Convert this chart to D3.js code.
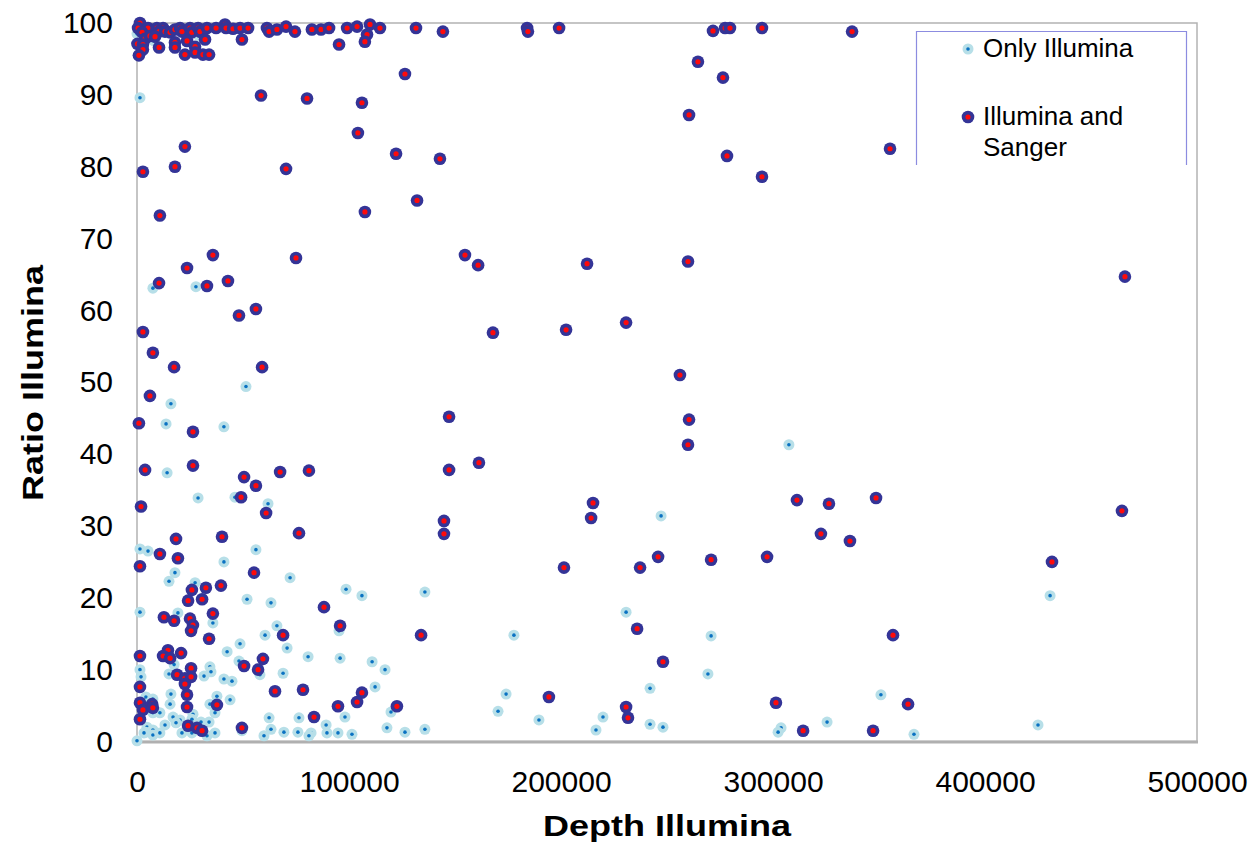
<!DOCTYPE html>
<html>
<head>
<meta charset="utf-8">
<script src="https://cdn.jsdelivr.net/npm/d3@7"></script>
<style>
  body { margin: 0; background: #fff; }
  svg { display: block; }
</style>
</head>
<body>
<div id="chart"></div>
<script>
// [depth, ratio]
const onlyIllumina = [
  [0,98.5],[8000,97.5],[29200,98.2],[1400,89.6],[7500,63.1],[27800,63.3],[51400,49.4],
  [16000,47.0],[13700,44.2],[41000,43.8],[14200,37.4],[28800,33.9],[46200,34.0],[61800,33.1],
  [1400,26.8],[5200,26.5],[56100,26.7],[41000,25.0],[307500,41.3],[247200,31.4],[430700,20.3],
  [230700,18.0],[177800,14.8],[270800,14.7],[269300,9.4],
  [174100,6.6],[242000,7.4],[170300,4.2],[189600,3.0],[219800,3.4],[216500,1.6],[242000,2.4],
  [248100,2.0],[303800,1.9],[302400,1.3],[325500,2.7],[350900,6.5],[366500,1.0],[425000,2.3],
  [17900,23.5],[15100,22.3],[27400,22.1],[72200,22.8],[51900,19.8],[63200,19.3],[98600,21.2],
  [106100,20.3],[135800,20.8],[1400,18.0],[19300,17.9],[35800,16.5],[95300,15.4],[66000,16.1],
  [60400,14.8],[48600,13.6],[70800,13.0],[42500,12.5],[80700,11.8],[95800,11.6],[110900,11.1],
  [117000,10.0],[48100,11.2],[58000,9.3],[17500,10.7],[34400,10.4],[34900,9.7],[1400,10.0],
  [1900,9.0],[15100,9.4],[31600,9.1],[41000,8.7],[44800,8.4],[68900,9.5],[4200,6.2],[7500,5.9],
  [16000,6.6],[37700,6.3],[43900,5.8],[34400,5.2],[7500,4.0],[10800,4.0],[15600,5.2],[36800,4.0],
  [119800,4.1],[112300,7.6],[98100,3.4],[62300,3.3],[76400,3.3],[63200,1.7],[69300,1.3],
  [75900,1.3],[82100,1.2],[81100,0.8],[59900,0.8],[89200,2.3],[89600,1.2],[94800,1.2],
  [101400,1.0],[117900,1.9],[126400,1.3],[135800,1.7],[13200,2.3],[17000,3.4],[20300,3.0],
  [18400,2.6],[26400,3.8],[25900,3.1],[30200,2.7],[34000,2.7],[4700,2.0],[4200,1.3],[7500,1.6],
  [7500,0.9],[10800,1.2],[3300,1.2],[21200,1.2],[25900,1.2],[33000,0.8],[36800,1.2],[49500,1.5],
  [0,0.1]
];

const illuminaSanger = [
  [1400,100],[500,99.3],[5200,99.3],[9400,99.3],[12300,99.3],[10400,98.8],[2400,98.7],
  [3800,97.8],[6100,98.2],[8500,98.1],[13200,98.8],[15600,98.7],[17900,99.1],[20300,99.3],
  [21200,98.8],[25000,99.3],[25900,98.7],[28800,99.3],[29700,98.8],[33000,99.3],[37300,99.3],
  [41500,99.8],[42000,99.3],[45300,99.2],[48600,99.3],[52400,99.3],[61300,99.3],[62300,98.8],
  [66000,99.1],[70300,99.5],[74500,98.8],[82500,99.1],[86800,99.1],[90600,99.3],[99100,99.3],
  [103800,99.5],[109900,99.8],[114600,99.3],[131600,99.3],[144300,98.8],[184000,99.3],
  [184400,98.8],[199100,99.3],[271700,98.9],[277400,99.3],[279700,99.3],[294800,99.3],
  [337300,98.8],[200,97.1],[2800,97.0],[2800,96.3],[900,95.5],[10400,96.6],[17900,97.3],
  [17900,96.6],[23600,97.5],[27400,96.7],[22600,95.6],[27400,95.9],[31100,95.6],[34000,95.6],
  [32100,97.7],[49500,97.7],[108500,98.4],[107500,97.4],[95300,97.0],[126400,92.9],
  [58500,89.9],[80200,89.5],[106100,88.9],[104200,84.7],[264600,94.6],[276400,92.4],
  [260400,87.2],[278300,81.5],[294800,78.6],[355200,82.5],[2800,79.3],[10800,73.2],
  [22600,82.8],[17900,80.0],[122200,81.8],[70300,79.7],[142900,81.1],[107500,73.7],
  [132100,75.3],[35800,67.7],[75000,67.3],[23600,65.9],[10400,63.8],[33000,63.4],[42900,64.1],
  [56100,60.2],[48100,59.3],[2800,57.0],[7500,54.1],[17500,52.1],[59000,52.1],[6100,48.1],
  [900,44.3],[26400,43.1],[3800,37.8],[26400,38.4],[50500,36.8],[56100,35.6],[67500,37.5],
  [81100,37.7],[49100,34.0],[1900,32.7],[60900,31.8],[76400,29.0],[18400,28.2],[40100,28.5],
  [10800,26.1],[19300,25.5],[1400,24.4],[147200,45.2],[147200,37.8],[161300,38.8],
  [144800,30.7],[144800,28.9],[154700,67.7],[160900,66.3],[167900,56.9],[202400,57.3],
  [230700,58.3],[212300,66.5],[259900,66.8],[256100,51.0],[260400,44.8],[259900,41.3],
  [466000,64.7],[215100,33.2],[214200,31.1],[311300,33.6],[326400,33.1],[348600,33.9],
  [322600,28.9],[336300,27.9],[464600,32.1],[201400,24.2],[237300,24.2],[245800,25.7],
  [270800,25.3],[297200,25.7],[431600,25.0],[235900,15.7],[356600,14.8],[248100,11.1],
  [194300,6.2],[230700,4.8],[231600,3.3],[301400,5.4],[314200,1.5],[363700,5.2],[347200,1.5],
  [55200,23.5],[25900,21.1],[32500,21.4],[39600,21.7],[24100,19.6],[30700,19.8],[88200,18.7],
  [12700,17.3],[17500,16.8],[25000,17.1],[26400,16.2],[25500,15.4],[35800,17.8],[95800,16.1],
  [68900,14.8],[34000,14.3],[134000,14.8],[1400,11.9],[14600,12.7],[12300,11.9],[15600,11.6],
  [20800,12.3],[50500,10.5],[57100,10.0],[59400,11.5],[25500,10.2],[18900,9.3],[22600,8.8],
  [25500,9.0],[22600,8.0],[1400,7.6],[23600,6.5],[23600,4.8],[37700,5.1],[65100,7.0],
  [78300,7.2],[1400,5.4],[2800,4.4],[7100,5.2],[7500,4.7],[106100,6.8],[103800,5.5],
  [94800,4.9],[122600,4.9],[83500,3.4],[1400,3.1],[24100,2.2],[28300,1.9],[30700,1.5],
  [49500,1.9]
];

const xTicks = [0, 100000, 200000, 300000, 400000, 500000];
const yTicks = [0, 10, 20, 30, 40, 50, 60, 70, 80, 90, 100];
const legendItems = ["Only Illumina", "Illumina and Sanger"];

const width = 1256, height = 847;
const margin = { left: 137, right: 59, top: 23, bottom: 105.5 };
const font = "'Liberation Sans', Arial, sans-serif";

const svg = d3.select("#chart").append("svg")
    .attr("width", width)
    .attr("height", height);

const x = d3.scaleLinear().domain([0, 500000]).range([margin.left, width - margin.right]);
const y = d3.scaleLinear().domain([0, 100]).range([height - margin.bottom, margin.top]);

// plot frame
svg.append("rect")
    .attr("x", x(0)).attr("y", y(100))
    .attr("width", x(500000) - x(0)).attr("height", y(0) - y(100))
    .attr("fill", "none").attr("stroke", "#b3b3b3").attr("stroke-width", 1.5);
svg.append("line")
    .attr("x1", x(0)).attr("x2", x(500000) + 1)
    .attr("y1", y(0) + 0.5).attr("y2", y(0) + 0.5)
    .attr("stroke", "#b0b0b0").attr("stroke-width", 3);

// axes
const xAxis = svg.append("g")
    .attr("transform", "translate(0," + y(0) + ")")
    .call(d3.axisBottom(x).tickValues(xTicks).tickSize(0).tickPadding(29).tickFormat(d3.format("d")));
const yAxis = svg.append("g")
    .attr("transform", "translate(" + x(0) + ",0)")
    .call(d3.axisLeft(y).tickValues(yTicks).tickSize(0).tickPadding(24));
[xAxis, yAxis].forEach(g => {
  g.select(".domain").remove();
  g.selectAll("text")
      .attr("font-family", font)
      .attr("font-size", 30)
      .attr("fill", "#000");
});

// axis titles
svg.append("text")
    .attr("x", 667).attr("y", 836)
    .attr("text-anchor", "middle")
    .attr("font-family", font).attr("font-size", 30).attr("font-weight", "bold")
    .attr("textLength", 248).attr("lengthAdjust", "spacingAndGlyphs")
    .text("Depth Illumina");
svg.append("text")
    .attr("transform", "translate(43,383) rotate(-90)")
    .attr("text-anchor", "middle")
    .attr("font-family", font).attr("font-size", 30).attr("font-weight", "bold")
    .attr("textLength", 236).attr("lengthAdjust", "spacingAndGlyphs")
    .text("Ratio Illumina");

// markers
function lightMarker(sel) {
  sel.append("circle").attr("r", 5.5).attr("fill", "#b7dfe8");
  sel.append("circle").attr("r", 1.8).attr("fill", "#0a72c2");
}
function darkMarker(sel) {
  sel.append("circle").attr("r", 6.3).attr("fill", "#343497");
  sel.append("circle").attr("r", 2.6).attr("fill", "#ff0a0a");
}

svg.append("g").selectAll("g")
  .data(onlyIllumina)
  .enter().append("g")
    .attr("transform", d => "translate(" + x(d[0]) + "," + y(d[1]) + ")")
    .call(lightMarker);

svg.append("g").selectAll("g")
  .data(illuminaSanger)
  .enter().append("g")
    .attr("transform", d => "translate(" + x(d[0]) + "," + y(d[1]) + ")")
    .call(darkMarker);

// legend
const lg = svg.append("g");
lg.append("path")
    .attr("d", "M916.5,165 V31.5 H1186.5 V165")
    .attr("fill", "#fff").attr("stroke", "#8c8ce0").attr("stroke-width", 1.2);
lg.append("g").attr("transform", "translate(968,49)").call(lightMarker);
lg.append("g").attr("transform", "translate(968,117)").call(darkMarker);
lg.append("text")
    .attr("x", 983).attr("y", 57)
    .attr("font-family", font).attr("font-size", 26)
    .text(legendItems[0]);
const t2 = lg.append("text")
    .attr("font-family", font).attr("font-size", 26);
t2.append("tspan").attr("x", 983).attr("y", 125).text("Illumina and");
t2.append("tspan").attr("x", 983).attr("y", 156).text("Sanger");
</script>
</body>
</html>
